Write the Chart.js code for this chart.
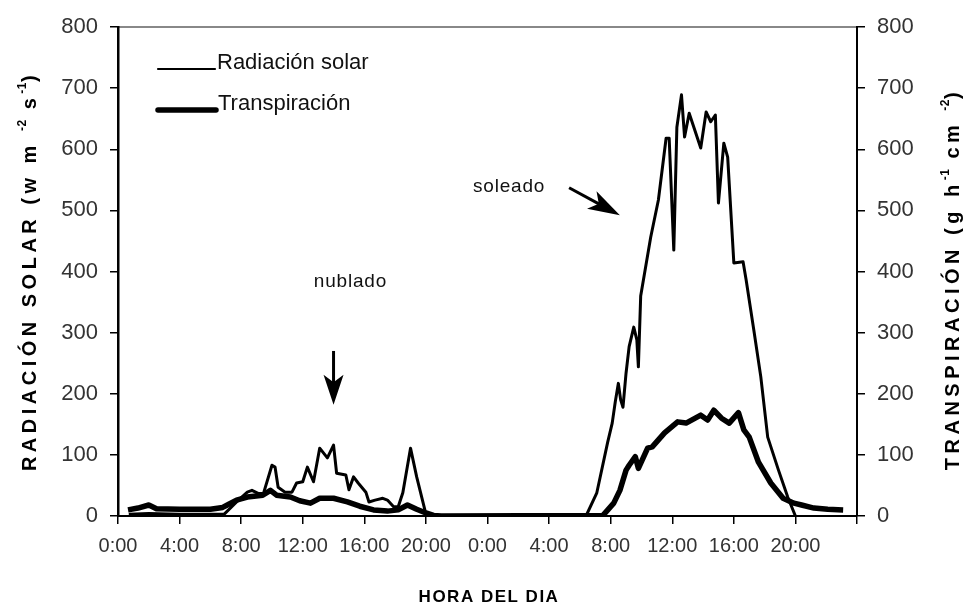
<!DOCTYPE html>
<html lang="es">
<head>
<meta charset="utf-8">
<title>Radiación solar y transpiración</title>
<script src="https://cdn.jsdelivr.net/npm/chart.js@4.4.0/dist/chart.umd.min.js"></script>
<style>
  html, body { margin: 0; padding: 0; background: #fff; }
  #wrap { width: 974px; height: 610px; }
</style>
</head>
<body>
<div id="wrap"><canvas id="c" width="974" height="610"></canvas></div>
<script>
// ---- datos (horas desde el inicio del día nublado, 0..48) ----
const radHours = [0.7, 2, 4, 6, 6.9, 7.7, 8.4, 8.7, 9.1, 9.45, 10.0, 10.2, 10.4, 10.85, 11.3, 11.6, 12.0, 12.3, 12.7,
  13.1, 13.6, 14.0, 14.2, 14.8, 15.0, 15.3, 15.6, 16.1, 16.3, 16.7, 17.2, 17.5, 17.9, 18.2, 18.5, 19.0, 19.4, 20.0, 20.5,
  30.4, 31.1, 31.8, 32.1, 32.3, 32.5, 32.65, 32.8, 33.0, 33.2, 33.5, 33.7, 33.8, 33.95, 34.6, 35.1, 35.6, 35.8, 36.1,
  36.3, 36.6, 36.8, 37.1, 37.85, 38.2, 38.5, 38.8, 39.0, 39.35, 39.6, 40.0, 40.6, 40.8, 41.3, 41.75, 42.2, 42.9, 43.5, 44.0];
const radValues = [3, 4, 3, 3, 3, 23, 39, 42, 37, 37, 83, 80, 47, 39, 39, 54, 56, 80, 56,
  111, 95, 116, 70, 67, 43, 64, 54, 39, 23, 26, 29, 26, 15, 15, 38, 111, 64, 3, 0,
  0, 38, 120, 152, 187, 217, 190, 178, 234, 277, 309, 288, 244, 360, 456, 517, 618, 618, 435,
  636, 689, 620, 659, 602, 661, 645, 656, 512, 610, 587, 414, 416, 386, 304, 228, 129, 75, 31, 0];

const trHours = [0.65, 1.3, 2.0, 2.5, 4, 6, 6.8, 7.1, 7.7, 8.4, 9.4, 9.9, 10.3, 11.2, 11.8, 12.5, 13.1, 14.0, 14.9,
  15.7, 16.6, 17.5, 18.2, 18.8, 19.4, 20.0, 20.5, 21,
  31.5, 32.2, 32.6, 33.0, 33.2, 33.6, 33.8, 34.4, 34.7, 35.5, 36.35, 36.9, 37.85, 38.3, 38.7, 39.2, 39.7, 40.3, 40.65,
  41.0, 41.6, 42.4, 43.2, 43.9, 44.4, 45.2, 46.1, 47.1];
const trValues = [10, 13, 18, 12, 11, 11, 14, 18, 26, 31, 34, 42, 34, 31, 25, 21, 29, 29, 23,
  16, 10, 8, 10, 18, 11, 5, 1, 0,
  1, 21, 42, 75, 83, 97, 78, 111, 113, 136, 154, 152, 165, 157, 173, 160, 152, 169, 141,
  129, 88, 54, 29, 21, 18, 13, 11, 10];

const xTicks = [0, 4, 8, 12, 16, 20, 24, 28, 32, 36, 40, 44, 48];
const xTickLabels = ['0:00', '4:00', '8:00', '12:00', '16:00', '20:00', '0:00', '4:00', '8:00', '12:00', '16:00', '20:00', ''];

const FONT = '"Liberation Sans", Arial, sans-serif';

function pts(xs, ys) {
  return xs.map((x, i) => ({ x: x, y: ys[i] }));
}

// texto con superíndices, girado
function drawRich(ctx, parts, cx, cy, angle, size, spacing) {
  ctx.save();
  ctx.translate(cx, cy);
  ctx.rotate(angle);
  let total = 0;
  const setFont = p => {
    ctx.font = 'bold ' + (p.sup ? Math.round(size * 0.62) : size) + 'px ' + FONT;
    ctx.letterSpacing = (p.sup ? 0.5 : spacing) + 'px';
  };
  parts.forEach(p => {
    setFont(p);
    p.w = ctx.measureText(p.t).width;
    total += p.w;
  });
  let x = -total / 2;
  ctx.fillStyle = '#000';
  ctx.textBaseline = 'middle';
  ctx.textAlign = 'left';
  parts.forEach(p => {
    setFont(p);
    ctx.fillText(p.t, x, p.sup ? -size * 0.38 : 0);
    x += p.w;
  });
  ctx.restore();
}

function drawArrow(ctx, x1, y1, x2, y2, headLen, headW, lw) {
  const a = Math.atan2(y2 - y1, x2 - x1);
  ctx.save();
  ctx.strokeStyle = '#000';
  ctx.fillStyle = '#000';
  ctx.lineWidth = lw;
  ctx.beginPath();
  ctx.moveTo(x1, y1);
  ctx.lineTo(x2 - Math.cos(a) * headLen * 0.7, y2 - Math.sin(a) * headLen * 0.7);
  ctx.stroke();
  ctx.translate(x2, y2);
  ctx.rotate(a);
  ctx.beginPath();
  ctx.moveTo(0, 0);
  ctx.lineTo(-headLen, -headW / 2);
  ctx.lineTo(-headLen * 0.75, 0);
  ctx.lineTo(-headLen, headW / 2);
  ctx.closePath();
  ctx.fill();
  ctx.restore();
}

const decor = {
  id: 'decor',
  afterDraw(chart) {
    const ctx = chart.ctx;
    const xs = chart.scales.x, ys = chart.scales.y;
    const X = v => xs.getPixelForValue(v), Y = v => ys.getPixelForValue(v);

    // leyenda
    const ds = chart.data.datasets;
    ctx.save();
    ctx.strokeStyle = '#000';
    ctx.lineCap = 'round';
    ctx.fillStyle = '#111';
    ctx.font = '22px ' + FONT;
    ctx.textBaseline = 'middle';
    ctx.lineWidth = 2.2;
    ctx.beginPath(); ctx.moveTo(158, 69); ctx.lineTo(215, 69); ctx.stroke();
    ctx.fillText(ds[0].label, 217, 63);
    ctx.lineWidth = ds[1].borderWidth;
    ctx.beginPath(); ctx.moveTo(158, 110); ctx.lineTo(216, 110); ctx.stroke();
    ctx.fillText(ds[1].label, 218, 104);

    // anotaciones
    ctx.font = '19px ' + FONT;
    ctx.letterSpacing = '0.8px';
    ctx.textAlign = 'center';
    ctx.fillText('nublado', X(15.1), Y(383));
    ctx.fillText('soleado', X(25.4), Y(538));
    ctx.restore();
    drawArrow(ctx, X(14), Y(270), X(14), Y(182), 30, 20, 3);
    drawArrow(ctx, X(29.3), Y(537), X(32.6), Y(492), 32, 20, 3);

    // títulos de ejes
    drawRich(ctx, [{ t: 'RADIACIÓN SOLAR (w m ' }, { t: '-2', sup: true }, { t: ' s' }, { t: '-1', sup: true }, { t: ')' }],
      30, 271, -Math.PI / 2, 20, 4.5);
    drawRich(ctx, [{ t: 'TRANSPIRACIÓN (g h' }, { t: '-1', sup: true }, { t: ' cm ' }, { t: '-2', sup: true }, { t: ')' }],
      953, 279, -Math.PI / 2, 20, 4.5);
    drawRich(ctx, [{ t: 'HORA DEL DIA' }], 489, 597, 0, 17, 1.5);
  }
};

const tickFontX = { family: FONT, size: 20 };
const tickFontY = { family: FONT, size: 22 };

new Chart(document.getElementById('c'), {
  type: 'line',
  data: {
    datasets: [
      {
        label: 'Radiación solar',
        data: pts(radHours, radValues),
        borderColor: '#000',
        borderWidth: 3,
        pointRadius: 0,
        tension: 0,
        borderJoinStyle: 'round',
        yAxisID: 'y'
      },
      {
        label: 'Transpiración',
        data: pts(trHours, trValues),
        borderColor: '#000',
        borderWidth: 5.5,
        pointRadius: 0,
        tension: 0,
        borderJoinStyle: 'round',
        yAxisID: 'y2'
      }
    ]
  },
  options: {
    responsive: false,
    animation: false,
    devicePixelRatio: 1,
    layout: { padding: { top: 27, left: 0, right: 0, bottom: 0 } },
    plugins: { legend: { display: false }, tooltip: { enabled: false } },
    scales: {
      x: {
        type: 'linear',
        position: 'bottom',
        min: 0,
        max: 48,
        afterBuildTicks: s => { s.ticks = xTicks.map(v => ({ value: v })); },
        afterFit: s => { s.height = 94; },
        ticks: {
          autoSkip: false,
          maxRotation: 0,
          padding: 10,
          color: '#333',
          font: tickFontX,
          callback: v => xTickLabels[xTicks.indexOf(v)]
        },
        grid: { drawOnChartArea: false, tickLength: 8, color: '#000', lineWidth: 1.5 },
        border: { color: '#000', width: 2 }
      },
      xTop: {
        type: 'linear',
        position: 'top',
        min: 0,
        max: 48,
        afterFit: s => { s.height = 0; },
        ticks: { display: false },
        grid: { drawOnChartArea: false, drawTicks: false },
        border: { color: '#888', width: 2 }
      },
      y: {
        position: 'left',
        min: 0,
        max: 800,
        afterFit: s => { s.width = 118; },
        ticks: { stepSize: 100, padding: 12, color: '#333', font: tickFontY },
        grid: { drawOnChartArea: false, tickLength: 8, color: '#000', lineWidth: 1.5 },
        border: { color: '#000', width: 2.5 }
      },
      y2: {
        position: 'right',
        min: 0,
        max: 800,
        afterFit: s => { s.width = 117; },
        ticks: { stepSize: 100, padding: 12, color: '#333', font: tickFontY },
        grid: { drawOnChartArea: false, tickLength: 8, color: '#000', lineWidth: 1.5 },
        border: { color: '#000', width: 2 }
      }
    }
  },
  plugins: [decor]
});
</script>
</body>
</html>
